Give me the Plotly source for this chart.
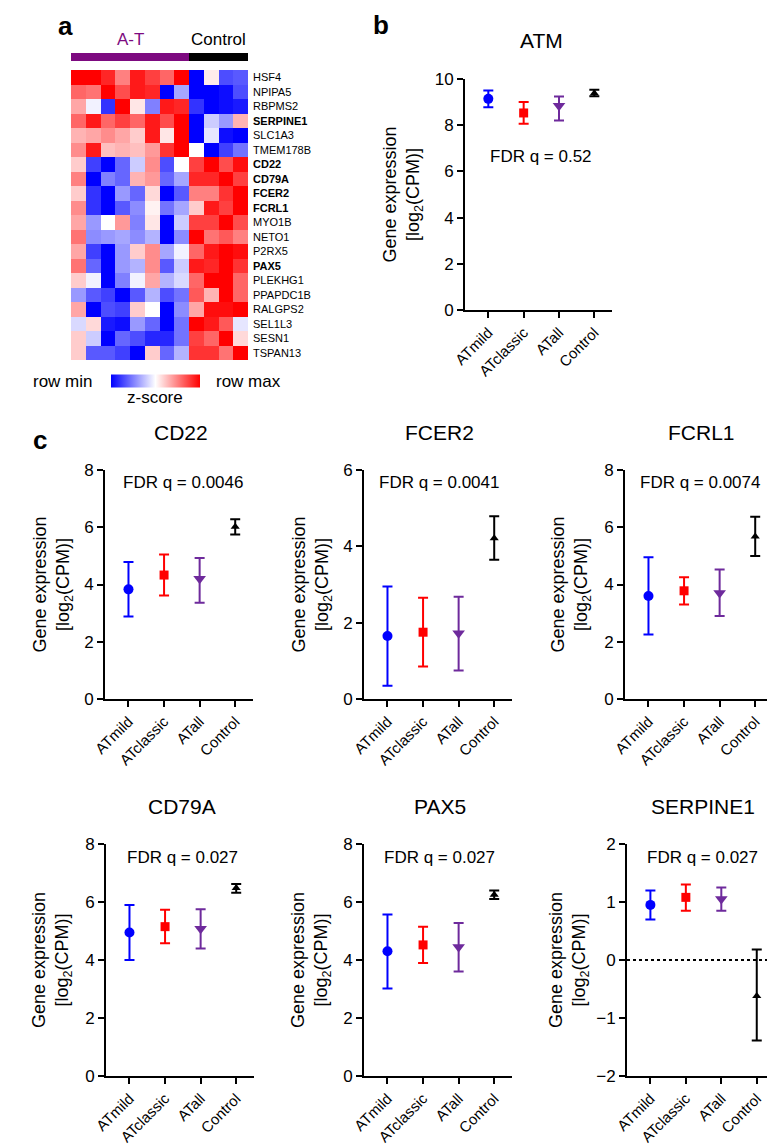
import plotly.graph_objects as go

W, H = 775, 1146
FONT = "Liberation Sans, Arial, sans-serif"

# ---------------- data ----------------
groups = ["ATmild", "ATclassic", "ATall", "Control"]

heat_genes = ["HSF4", "NPIPA5", "RBPMS2", "SERPINE1", "SLC1A3", "TMEM178B", "CD22", "CD79A",
              "FCER2", "FCRL1", "MYO1B", "NETO1", "P2RX5", "PAX5", "PLEKHG1", "PPAPDC1B",
              "RALGPS2", "SEL1L3", "SESN1", "TSPAN13"]
bold_genes = ["SERPINE1", "CD22", "CD79A", "FCER2", "FCRL1", "PAX5"]
heat_z = [
    [1.0, 1.0, 0.85, 0.5, 0.9, 0.75, 0.6, 1.0, -1.0, 0.08, -0.7, -0.65],
    [0.6, 0.55, 1.0, 0.7, 0.9, 0.85, -1.0, -0.35, -1.0, -1.0, -0.95, -0.7],
    [0.35, -0.05, -0.8, 1.0, 0.1, -0.5, 0.9, 0.85, -0.8, -1.0, -0.95, -0.9],
    [0.6, 0.9, 0.6, 0.75, 0.6, 0.9, 0.7, 1.0, -1.0, -0.2, -0.4, 0.3],
    [0.3, 0.35, 0.45, 0.35, 0.2, 0.9, 0.1, 1.0, -1.0, -0.1, -0.95, -1.0],
    [0.45, 0.9, 0.25, 0.3, 0.25, 0.4, 0.8, 1.0, 0.0, -1.0, -0.75, -0.55],
    [0.2, -0.75, -1.0, -0.6, -0.2, 0.45, -0.7, 0.0, 0.75, 1.0, 0.7, 0.95],
    [0.5, -1.0, -0.5, -0.6, 0.3, 0.4, -0.6, -0.35, 0.85, 0.85, 1.0, 0.75],
    [0.2, -0.8, -1.0, -0.4, -0.6, 0.15, -1.0, -0.65, 0.5, 0.5, 0.8, 1.0],
    [0.45, -0.8, -1.0, -0.65, -0.45, 0.05, -0.55, -0.35, 0.2, 0.9, 0.75, 1.0],
    [0.35, -0.4, 0.0, 0.4, -0.5, 0.1, -1.0, -0.2, 0.75, 0.75, 1.0, 0.7],
    [0.55, -0.45, -0.4, -0.35, -0.45, -0.3, -1.0, -0.45, 1.0, 0.55, 0.65, 0.5],
    [0.35, -0.75, -1.0, -0.4, 0.2, 0.45, -0.35, -0.05, 0.6, 0.9, 1.0, 0.95],
    [0.55, -0.6, -1.0, -0.4, -0.3, 0.45, -0.65, -0.2, 0.9, 0.85, 1.0, 0.8],
    [0.2, -0.05, -1.0, -0.5, -0.05, 0.35, -0.3, -0.15, 0.6, 1.0, 1.0, 0.6],
    [-0.4, -0.65, -0.75, -1.0, -0.65, -0.3, -0.7, -0.55, 0.65, 0.3, 1.0, 0.6],
    [0.35, -1.0, -0.7, -0.75, 0.2, 0.0, -1.0, -0.45, 0.35, 0.95, 0.95, 1.0],
    [-0.15, 0.15, -0.9, -0.95, -0.4, -0.6, -1.0, -0.55, 1.0, 0.9, 0.65, -0.1],
    [0.2, -0.2, -1.0, -0.6, -0.7, -0.85, -0.85, -0.55, 0.75, 0.6, 1.0, 0.15],
    [0.2, -0.65, -0.65, -0.75, -1.0, 0.2, -0.6, -0.3, 0.8, 0.8, 0.55, 1.0],
]

atm_mean = [9.14, 8.53, 8.84, 9.38]
atm_low = [8.78, 8.06, 8.20, 9.25]
atm_high = [9.50, 9.00, 9.24, 9.54]

cd22_mean = [3.83, 4.33, 4.20, 6.02]
cd22_low = [2.88, 3.62, 3.36, 5.75]
cd22_high = [4.79, 5.05, 4.93, 6.28]

fcer2_mean = [1.65, 1.75, 1.72, 4.21]
fcer2_low = [0.35, 0.85, 0.75, 3.65]
fcer2_high = [2.95, 2.65, 2.68, 4.79]

fcrl1_mean = [3.60, 3.78, 3.70, 5.68]
fcrl1_low = [2.25, 3.30, 2.90, 5.00]
fcrl1_high = [4.95, 4.25, 4.52, 6.37]

cd79a_mean = [4.95, 5.15, 5.08, 6.48]
cd79a_low = [4.00, 4.58, 4.40, 6.32]
cd79a_high = [5.90, 5.73, 5.75, 6.62]

pax5_mean = [4.30, 4.52, 4.45, 6.25]
pax5_low = [3.02, 3.90, 3.60, 6.10]
pax5_high = [5.57, 5.15, 5.28, 6.40]

serpine1_mean = [0.95, 1.08, 1.05, -0.62]
serpine1_low = [0.70, 0.85, 0.85, -1.39]
serpine1_high = [1.20, 1.30, 1.25, 0.18]

# ---------------- styling ----------------
COLORS = ["#0000FF", "#FF0000", "#6E2A9C", "#000000"]
SYMBOLS = ["circle", "square", "triangle-down", "triangle-up"]
SIZES = [10, 9, 11, 8]
BAR_PURPLE = "#7D0A80"


def fx(p):
    return p / W


def fy(p):
    return 1 - p / H


fig = go.Figure()

# heatmap
fig.add_trace(go.Heatmap(
    z=heat_z, x=list(range(12)), y=list(range(len(heat_genes))),
    colorscale=[[0, "#0000FF"], [0.5, "#FFFFFF"], [1, "#FF0000"]], zmin=-1, zmax=1,
    xaxis="x", yaxis="y", hoverinfo="skip",
    colorbar=dict(orientation="h", x=fx(147.5), xanchor="center", y=fy(373), yanchor="middle",
                  lenmode="pixels", len=89, thickness=13, outlinewidth=0, xpad=0, ypad=0,
                  showticklabels=False, ticks=""),
))

layout = dict(
    width=W, height=H, autosize=False,
    margin=dict(l=0, r=0, t=0, b=0, pad=0, autoexpand=False),
    paper_bgcolor="white", plot_bgcolor="white",
    font=dict(family=FONT, color="black"),
    showlegend=False,
)
layout["xaxis"] = dict(domain=[fx(63), fx(240)], range=[-0.5, 11.5], visible=False, anchor="y",
                       automargin=False)
layout["yaxis"] = dict(
    domain=[fy(352), fy(62)], range=[len(heat_genes) - 0.5, -0.5], anchor="x",
    tickvals=list(range(len(heat_genes))),
    ticktext=[f"<b>{g}</b>" if g in bold_genes else g for g in heat_genes],
    side="right", ticks="", showgrid=False, zeroline=False, showline=False, automargin=False,
    tickfont=dict(size=11, family=FONT), ticklabelstandoff=4,
)

shapes = []
annotations = []
# group bars above heatmap
shapes.append(dict(type="rect", xref="x", yref="paper", x0=-0.5, x1=7.5, y0=fy(53), y1=fy(45),
                   fillcolor=BAR_PURPLE, line=dict(width=0)))
shapes.append(dict(type="rect", xref="x", yref="paper", x0=7.5, x1=11.5, y0=fy(53), y1=fy(45),
                   fillcolor="black", line=dict(width=0)))
annotations.append(dict(text="A-T", x=3.5, xref="x", y=fy(32), yref="paper", showarrow=False,
                        font=dict(size=17, color=BAR_PURPLE), xanchor="center", yanchor="middle"))
annotations.append(dict(text="Control", x=9.5, xref="x", y=fy(32), yref="paper", showarrow=False,
                        font=dict(size=17, color="black"), xanchor="center", yanchor="middle"))
annotations.append(dict(text="row min", x=fx(23), y=fy(373), xref="paper", yref="paper",
                        showarrow=False, font=dict(size=17), xanchor="left", yanchor="middle"))
annotations.append(dict(text="row max", x=fx(206), y=fy(373), xref="paper", yref="paper",
                        showarrow=False, font=dict(size=17), xanchor="left", yanchor="middle"))
annotations.append(dict(text="z-score", x=fx(147), y=fy(389), xref="paper", yref="paper",
                        showarrow=False, font=dict(size=17), xanchor="center", yanchor="middle"))

# panel letters
for letter, px, py in [("a", 57, 18), ("b", 373, 17), ("c", 32, 432)]:
    annotations.append(dict(text=f"<b>{letter}</b>", x=fx(px), y=fy(py), xref="paper", yref="paper",
                            showarrow=False, font=dict(size=26), xanchor="center", yanchor="middle"))

panels = [
    # title, fdr, means, lows, highs, x0, x1, ytop, ybot, yrange, dtick, xrange_max, ytitle_x, fdr_x, fdr_y
    ("ATM", "FDR q = 0.52", atm_mean, atm_low, atm_high, 457, 604, 71, 302, [0, 10], 2, 3.5, 395, 533, 148),
    ("CD22", "FDR q = 0.0046", cd22_mean, cd22_low, cd22_high, 97, 245, 462, 691, [0, 8], 2, 3.5, 44, 175, 475),
    ("FCER2", "FDR q = 0.0041", fcer2_mean, fcer2_low, fcer2_high, 356, 504, 462, 691, [0, 6], 2, 3.5, 303, 432, 475),
    ("FCRL1", "FDR q = 0.0074", fcrl1_mean, fcrl1_low, fcrl1_high, 617, 765, 462, 691, [0, 8], 2, 3.5, 562, 692, 475),
    ("CD79A", "FDR q = 0.027", cd79a_mean, cd79a_low, cd79a_high, 98, 246, 836, 1068, [0, 8], 2, 3.5, 44, 174, 849),
    ("PAX5", "FDR q = 0.027", pax5_mean, pax5_low, pax5_high, 356, 504, 836, 1068, [0, 8], 2, 3.5, 303, 432, 849),
    ("SERPINE1", "FDR q = 0.027", serpine1_mean, serpine1_low, serpine1_high, 619, 775, 836, 1068, [-2, 2], 1, 3.74, 561, 694, 849),
]

for i, (title, fdr, means, lows, highs, x0, x1, yt, yb, yr, dt, xmax, ytx, fdrx, fdry) in enumerate(panels):
    k = i + 2
    xa, ya = f"x{k}", f"y{k}"
    for j, g in enumerate(groups):
        fig.add_trace(go.Scatter(
            x=[g], y=[means[j]], mode="markers", xaxis=xa, yaxis=ya, cliponaxis=False,
            marker=dict(symbol=SYMBOLS[j], size=SIZES[j], color=COLORS[j], line=dict(width=0)),
            error_y=dict(type="data", symmetric=False, array=[highs[j] - means[j]],
                         arrayminus=[means[j] - lows[j]], color=COLORS[j], thickness=2, width=5),
            hoverinfo="skip",
        ))
    layout[f"xaxis{k}"] = dict(
        domain=[fx(x0), fx(x1)], anchor=ya, type="category", categoryorder="array",
        categoryarray=groups, range=[-0.66, xmax], showline=True, linecolor="black", linewidth=2,
        ticks="outside", ticklen=6, tickwidth=2, tickcolor="black", tickangle=-45,
        tickfont=dict(size=15), showgrid=False, zeroline=False, automargin=False,
    )
    layout[f"yaxis{k}"] = dict(
        domain=[fy(yb), fy(yt)], anchor=xa, range=yr, dtick=dt, tick0=0, showline=True,
        linecolor="black", linewidth=2, ticks="outside", ticklen=6, tickwidth=2, tickcolor="black",
        tickfont=dict(size=17), showgrid=False, zeroline=False, automargin=False,
    )
    annotations.append(dict(text=title, x=fx(x0 + 76), y=fy(yt - 38),
                            xref="paper", yref="paper", showarrow=False, font=dict(size=21),
                            xanchor="center", yanchor="middle"))
    annotations.append(dict(text=fdr, x=fx(fdrx), y=fy(fdry), xref="paper", yref="paper",
                            showarrow=False, font=dict(size=17), xanchor="center", yanchor="middle"))
    annotations.append(dict(text="Gene expression<br>[log<sub>2</sub>(CPM)]", x=fx(ytx),
                            y=fy((yt + yb) / 2), xref="paper", yref="paper", showarrow=False,
                            textangle=-90, font=dict(size=18), xanchor="center", yanchor="middle"))
    if yr[0] < 0:
        shapes.append(dict(type="line", xref=f"{xa} domain", yref=ya, x0=0, x1=1, y0=0, y1=0,
                           line=dict(color="black", width=2, dash="dot")))

layout["shapes"] = shapes
layout["annotations"] = annotations
fig.update_layout(**layout)
fig.write_html("out.html")
